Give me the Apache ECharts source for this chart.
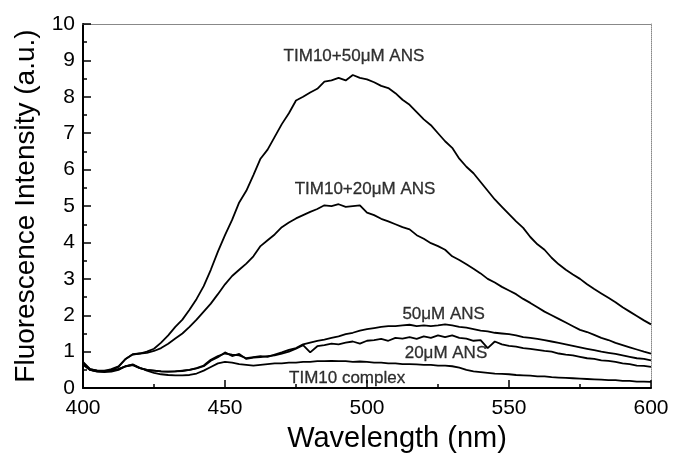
<!DOCTYPE html>
<html>
<head>
<meta charset="utf-8" />
<title></title>
<script src="https://cdn.jsdelivr.net/npm/echarts@6/dist/echarts.min.js"></script>
<style>
  body { padding: 0; margin: 0; background: #fff; }
</style>
</head>
<body>
<div id="main" style="width: 674px; height: 458px;"></div>
<script type="text/javascript">
// wavelength grid (nm)
var wavelength = [400, 402.5, 405, 407.5, 410, 412.5, 415, 417.5, 420, 422.5,
  425, 427.5, 430, 432.5, 435, 437.5, 440, 442.5, 445, 447.5,
  450, 452.5, 455, 457.5, 460, 462.5, 465, 467.5, 470, 472.5,
  475, 477.5, 480, 482.5, 485, 487.5, 490, 492.5, 495, 497.5,
  500, 502.5, 505, 507.5, 510, 512.5, 515, 517.5, 520, 522.5,
  525, 527.5, 530, 532.5, 535, 537.5, 540, 542.5, 545, 547.5,
  550, 552.5, 555, 557.5, 560, 562.5, 565, 567.5, 570, 572.5,
  575, 577.5, 580, 582.5, 585, 587.5, 590, 592.5, 595, 597.5, 600];

var tim50 = [0.72, 0.52, 0.48, 0.47, 0.52, 0.60, 0.80, 0.93, 0.95, 1.00,
  1.08, 1.25, 1.45, 1.68, 1.88, 2.15, 2.45, 2.80, 3.25, 3.75,
  4.20, 4.62, 5.10, 5.42, 5.85, 6.30, 6.55, 6.90, 7.25, 7.55,
  7.90, 8.00, 8.12, 8.22, 8.42, 8.45, 8.52, 8.45, 8.60, 8.52,
  8.48, 8.40, 8.30, 8.24, 8.10, 7.92, 7.78, 7.58, 7.38, 7.22,
  7.00, 6.78, 6.60, 6.30, 6.08, 5.90, 5.66, 5.42, 5.18, 4.98,
  4.78, 4.58, 4.40, 4.15, 3.95, 3.80, 3.58, 3.40, 3.25, 3.12,
  3.00, 2.85, 2.72, 2.60, 2.48, 2.36, 2.22, 2.10, 1.98, 1.86, 1.75];

var tim20 = [0.70, 0.50, 0.46, 0.46, 0.50, 0.58, 0.80, 0.92, 0.95, 0.97,
  1.02, 1.10, 1.22, 1.36, 1.50, 1.68, 1.88, 2.10, 2.32, 2.58,
  2.85, 3.08, 3.25, 3.42, 3.62, 3.90, 4.06, 4.22, 4.42, 4.55,
  4.66, 4.75, 4.84, 4.92, 5.02, 5.00, 5.05, 4.98, 5.00, 5.02,
  4.82, 4.75, 4.65, 4.58, 4.50, 4.42, 4.36, 4.20, 4.10, 3.98,
  3.90, 3.80, 3.62, 3.52, 3.40, 3.28, 3.15, 3.00, 2.90, 2.78,
  2.68, 2.58, 2.45, 2.34, 2.22, 2.10, 2.00, 1.90, 1.80, 1.70,
  1.60, 1.54, 1.46, 1.38, 1.32, 1.24, 1.18, 1.12, 1.06, 1.00, 0.95];

var ans50 = [0.68, 0.52, 0.48, 0.48, 0.48, 0.52, 0.60, 0.64, 0.55, 0.50,
  0.48, 0.46, 0.45, 0.46, 0.48, 0.50, 0.55, 0.62, 0.78, 0.88,
  0.95, 0.92, 0.90, 0.82, 0.85, 0.88, 0.86, 0.92, 0.98, 1.05,
  1.10, 1.20, 1.25, 1.30, 1.33, 1.38, 1.42, 1.48, 1.52, 1.58,
  1.62, 1.65, 1.68, 1.70, 1.70, 1.72, 1.74, 1.70, 1.72, 1.70,
  1.72, 1.75, 1.72, 1.68, 1.66, 1.62, 1.58, 1.56, 1.52, 1.50,
  1.48, 1.45, 1.40, 1.38, 1.35, 1.32, 1.28, 1.24, 1.20, 1.16,
  1.12, 1.08, 1.04, 1.00, 0.97, 0.94, 0.90, 0.86, 0.82, 0.80, 0.76];

var ans20 = [0.66, 0.50, 0.47, 0.46, 0.48, 0.52, 0.60, 0.63, 0.55, 0.50,
  0.48, 0.46, 0.45, 0.46, 0.47, 0.50, 0.54, 0.60, 0.75, 0.85,
  0.98, 0.88, 0.94, 0.80, 0.84, 0.85, 0.88, 0.90, 0.95, 1.00,
  1.08, 1.18, 0.98, 1.15, 1.18, 1.22, 1.20, 1.25, 1.28, 1.22,
  1.30, 1.32, 1.35, 1.30, 1.38, 1.36, 1.40, 1.35, 1.42, 1.38,
  1.45, 1.40, 1.45, 1.38, 1.36, 1.30, 1.32, 1.10, 1.28, 1.20,
  1.16, 1.14, 1.10, 1.08, 1.05, 1.02, 1.00, 0.95, 0.92, 0.90,
  0.86, 0.82, 0.80, 0.76, 0.75, 0.72, 0.68, 0.66, 0.62, 0.61, 0.58];

var complex = [0.64, 0.50, 0.45, 0.44, 0.45, 0.50, 0.60, 0.65, 0.56, 0.48,
  0.42, 0.38, 0.36, 0.35, 0.35, 0.36, 0.40, 0.48, 0.58, 0.68,
  0.72, 0.70, 0.66, 0.64, 0.62, 0.64, 0.66, 0.68, 0.68, 0.70,
  0.70, 0.72, 0.72, 0.74, 0.74, 0.75, 0.74, 0.74, 0.72, 0.73,
  0.72, 0.70, 0.70, 0.68, 0.68, 0.66, 0.66, 0.65, 0.64, 0.64,
  0.62, 0.62, 0.60, 0.56, 0.50, 0.46, 0.44, 0.42, 0.40, 0.39,
  0.38, 0.36, 0.35, 0.34, 0.32, 0.32, 0.30, 0.29, 0.28, 0.27,
  0.26, 0.25, 0.24, 0.23, 0.22, 0.22, 0.20, 0.20, 0.18, 0.18, 0.17];

// curve annotations: [wavelength, intensity, text]
var notes = [
  [495.4, 9.11, 'TIM10+50\u03bcM ANS'],
  [499.3, 5.46, 'TIM10+20\u03bcM ANS'],
  [527, 2.04, '50\u03bcM ANS'],
  [527.8, 0.95, '20\u03bcM ANS'],
  [493, 0.28, 'TIM10 complex']
];

var font = '"Liberation Sans", Arial, Helvetica, sans-serif';

function pairs(ys) {
  return wavelength.map(function (x, i) { return [x, ys[i]]; });
}

function curve(name, ys) {
  return {
    name: name,
    type: 'line',
    data: pairs(ys),
    showSymbol: false,
    symbol: 'none',
    smooth: false,
    lineStyle: { color: '#000', width: 1.8 },
    z: 3
  };
}

var mychart = echarts.init(document.getElementById('main'), null, { renderer: 'canvas' });

mychart.setOption({
  animation: false,
  backgroundColor: '#fff',
  grid: { left: 83, right: 23, top: 24, bottom: 65 },
  xAxis: [
    {
      type: 'value',
      min: 400, max: 600, interval: 50,
      name: 'Wavelength (nm)',
      nameLocation: 'middle',
      nameGap: 28,
      nameTextStyle: { fontFamily: font, fontSize: 29, color: '#000', padding: [0, 0, 0, 60] },
      axisLine: { show: true, onZero: false, lineStyle: { color: '#000', width: 2 } },
      axisTick: { show: true, inside: true, length: 8, lineStyle: { color: '#000', width: 1.5 } },
      minorTick: { show: true, splitNumber: 2, length: 4, lineStyle: { color: '#000', width: 1.5 } },
      axisLabel: { fontFamily: font, fontSize: 21, color: '#000', margin: 10 },
      splitLine: { show: false }
    },
    {
      type: 'value', position: 'top',
      min: 400, max: 600,
      axisLine: { show: true, onZero: false, lineStyle: { color: '#888', width: 1 } },
      axisTick: { show: false }, axisLabel: { show: false }, splitLine: { show: false }
    }
  ],
  yAxis: [
    {
      type: 'value',
      min: 0, max: 10, interval: 1,
      name: 'Fluorescence Intensity (a.u.)',
      nameLocation: 'middle',
      nameGap: 39,
      nameTextStyle: { fontFamily: font, fontSize: 28, color: '#000' },
      axisLine: { show: true, onZero: false, lineStyle: { color: '#000', width: 2 } },
      axisTick: { show: true, inside: true, length: 8, lineStyle: { color: '#000', width: 1.5 } },
      minorTick: { show: true, splitNumber: 2, length: 4, lineStyle: { color: '#000', width: 1.5 } },
      axisLabel: { fontFamily: font, fontSize: 21, color: '#000', margin: 8 },
      splitLine: { show: false }
    },
    {
      type: 'value', position: 'right',
      min: 0, max: 10,
      axisLine: { show: true, onZero: false, lineStyle: { color: '#888', width: 1, type: 'dotted' } },
      axisTick: { show: false }, axisLabel: { show: false }, splitLine: { show: false }
    }
  ],
  series: [
    curve('TIM10+50uM ANS', tim50),
    curve('TIM10+20uM ANS', tim20),
    curve('50uM ANS', ans50),
    curve('20uM ANS', ans20),
    curve('TIM10 complex', complex),
    {
      name: 'notes',
      type: 'scatter',
      symbolSize: 0,
      data: notes.map(function (n) { return { value: [n[0], n[1]], text: n[2] }; }),
      label: {
        show: true,
        position: 'inside',
        color: '#000',
        textBorderColor: '#000',
        textBorderWidth: 0.3,
        fontFamily: font,
        fontSize: 17,
        formatter: function (p) { return p.data.text; }
      },
      z: 5
    }
  ]
});
</script>
</body>
</html>
